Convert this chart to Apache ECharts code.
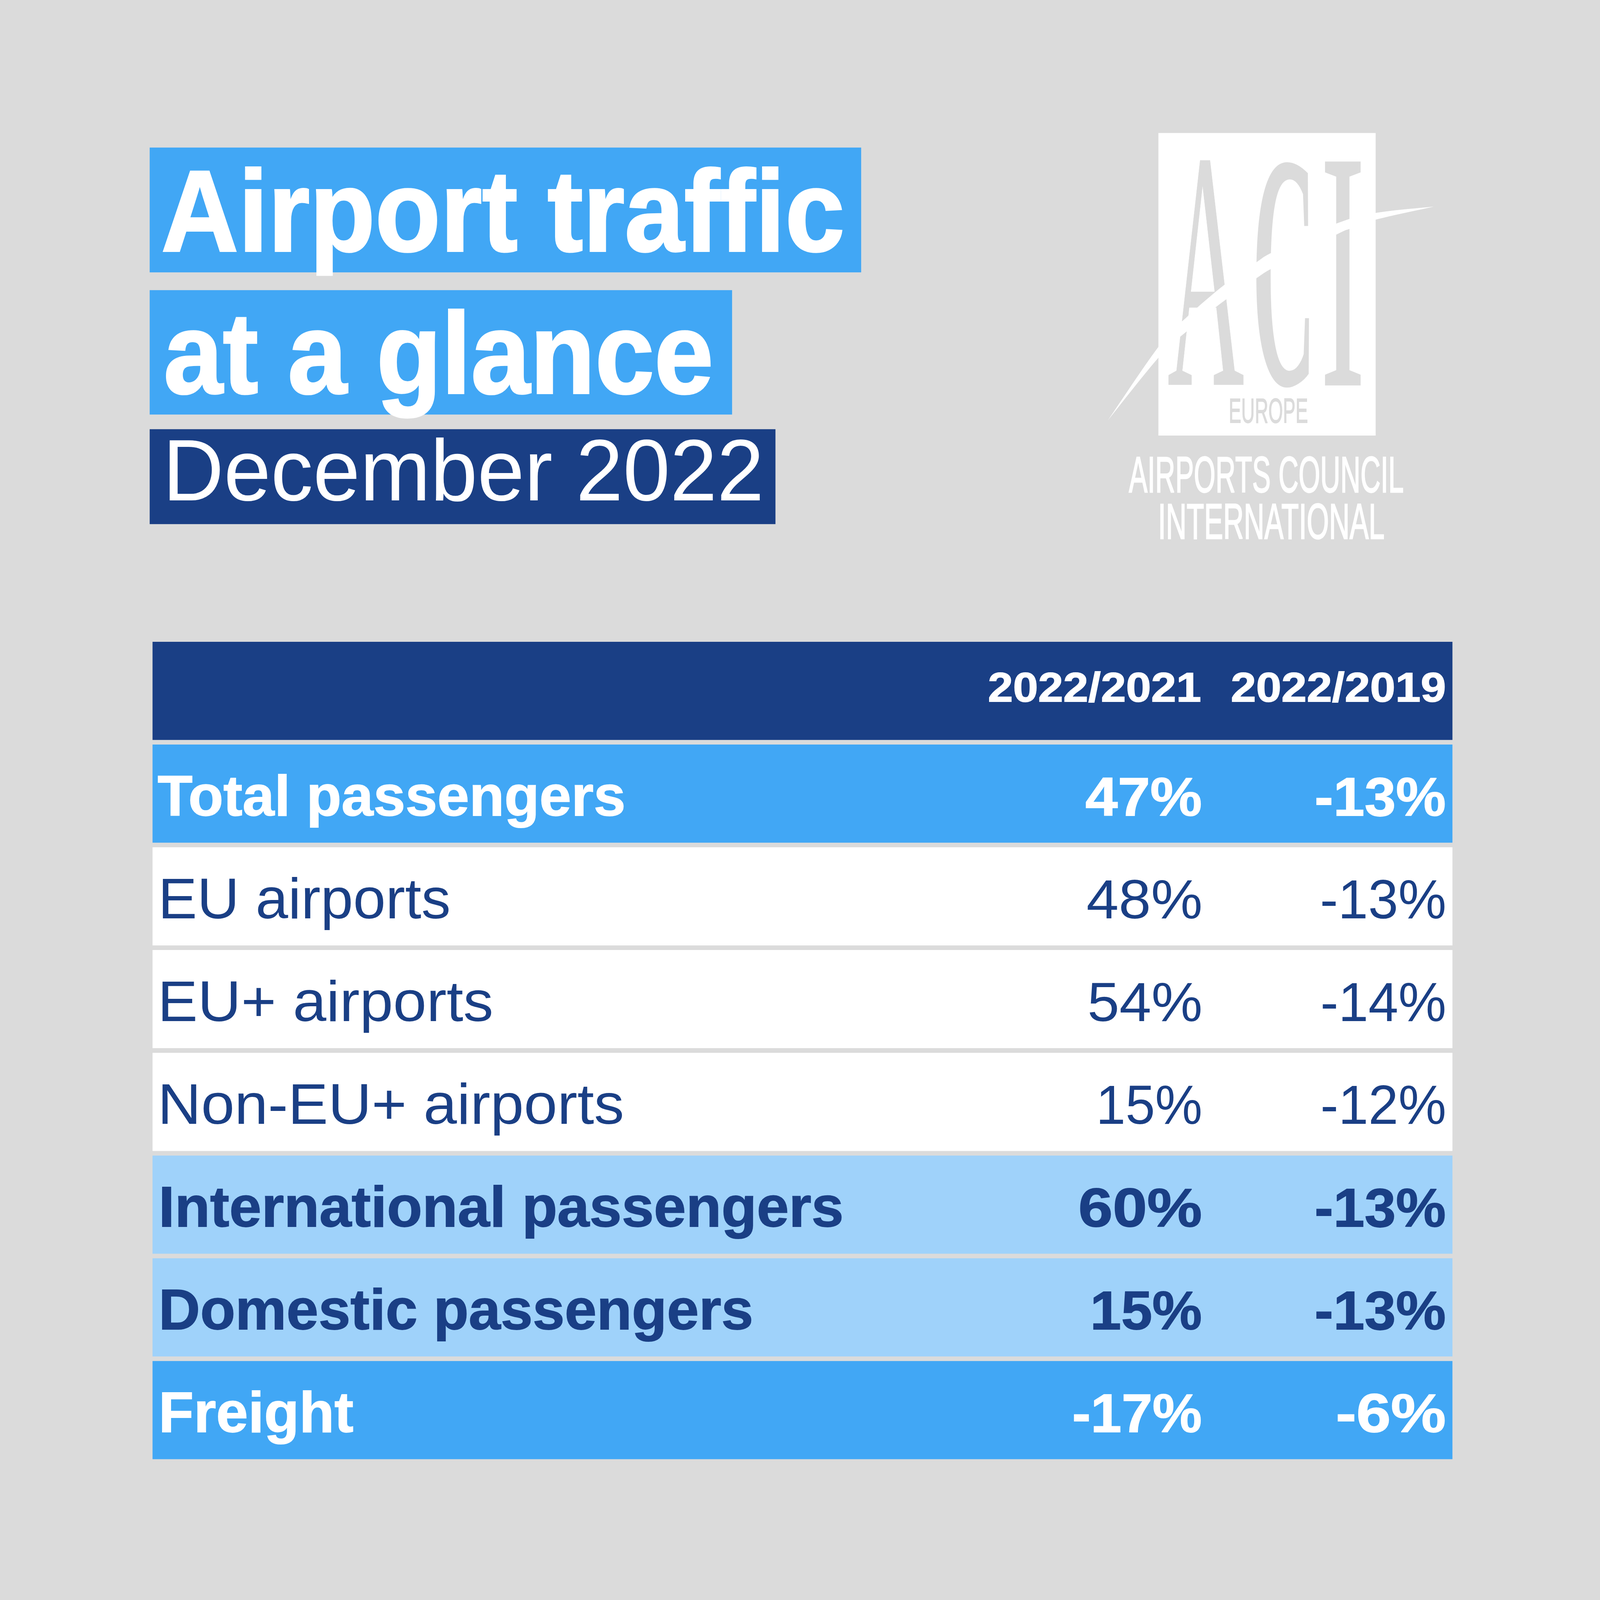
<!DOCTYPE html>
<html><head><meta charset="utf-8">
<style>html,body{margin:0;padding:0;background:#dbdbdb;overflow:hidden}#c{width:100vw;height:100vh}</style>
<script src="https://cdn.jsdelivr.net/npm/echarts@6/dist/echarts.min.js"></script>
</head><body><div id="c"></div>
<script>
// ---- data ----
const titleLines = ['Airport traffic', 'at a glance'];
const subtitle = 'December 2022';
const columns = ['2022/2021', '2022/2019'];
const rowLabels = ['Total passengers', 'EU airports', 'EU+ airports', 'Non-EU+ airports',
  'International passengers', 'Domestic passengers', 'Freight'];
const change2021 = [47, 48, 54, 15, 60, 15, -17];
const change2019 = [-13, -13, -14, -12, -13, -13, -6];
const logoLetters = ['A', 'C', 'I'];
const logoRegion = 'EUROPE';
const logoName = ['AIRPORTS COUNCIL', 'INTERNATIONAL'];

// ---- styles & layout (in units of the 4500-wide design) ----
const BG = '#dbdbdb', BLUE = '#41a7f5', NAVY = '#1a3f85', LIGHT = '#9fd2fa', WHITE = '#ffffff';
const SANS = '"Liberation Sans"', SERIF = '"Liberation Serif"', NARROW = '"Liberation Sans Narrow","Liberation Sans"';
const rowFill = [NAVY, BLUE, WHITE, WHITE, WHITE, LIGHT, LIGHT, BLUE];
const rowInk = [WHITE, WHITE, NAVY, NAVY, NAVY, NAVY, NAVY, WHITE];
const rowWeight = ['bold', 'bold', 'normal', 'normal', 'normal', 'bold', 'bold', 'bold'];
const labelInkLeft = [0, 444, 458, 457, 457, 456, 456, 456];
const labelInkRight = [0, 1753, 1262, 1382, 1750, 2366, 2112, 993];
const col1InkLeft = [2782, 3055, 3059, 3064, 3093, 3039, 3075, 3021];
const col2InkLeft = [3465, 3703, 3719, 3720, 3720, 3703, 3703, 3763];
const col1InkRight = [3376, 3377, 3377, 3377, 3377, 3377, 3377, 3377];
const col2InkRight = [4063, 4063, 4063, 4063, 4063, 4063, 4063, 4063];

// The page's real size sets the drawing scale.
const PAGE = Math.min(window.innerWidth, window.innerHeight);
const K = PAGE / 4500;

const ctx = document.createElement('canvas').getContext('2d');
function fit(text, o) {
  const size = o.size * K;
  ctx.font = `${o.weight || 'normal'} ${size}px ${o.family || SANS}`;
  ctx.textBaseline = 'middle';
  const H = ctx.measureText('H');
  const m = ctx.measureText(text);
  const off = H.actualBoundingBoxDescent;      // alphabetic baseline below the middle line
  const L = m.actualBoundingBoxLeft, R = m.actualBoundingBoxRight;
  const sx = (o.x1 - o.x0) * K / (L + R);
  let sy = 1;
  if (o.top != null) sy = (o.base - o.top) * K / (m.actualBoundingBoxAscent + off);
  const style = {
    text, x: 0, y: -off, fill: o.fill,
    fontSize: size, fontFamily: o.family || SANS, fontWeight: o.weight || 'normal',
    align: 'left', verticalAlign: 'middle'
  };
  if (o.heavy) { style.stroke = o.fill; style.lineWidth = o.heavy * K; }
  return { type: 'text', silent: true, z: o.z || 5, x: o.x0 * K + L * sx, y: o.base * K, scaleX: sx, scaleY: sy, style };
}
function rect(x0, y0, x1, y1, fill, z) {
  return { type: 'rect', silent: true, z: z || 1,
    shape: { x: x0 * K, y: y0 * K, width: (x1 - x0) * K, height: (y1 - y0) * K }, style: { fill } };
}
function sample(pts) {
  const out = [];
  for (let i = 0; i < pts.length - 1; i++) {
    const p0 = pts[Math.max(i - 1, 0)], p1 = pts[i], p2 = pts[i + 1], p3 = pts[Math.min(i + 2, pts.length - 1)];
    for (let k = 0; k < 12; k++) {
      const t = k / 12, t2 = t * t, t3 = t2 * t;
      out.push([0, 1].map(j => K * 0.5 * (2 * p1[j] + (p2[j] - p0[j]) * t + (2 * p0[j] - 5 * p1[j] + 4 * p2[j] - p3[j]) * t2 + (3 * p1[j] - p0[j] - 3 * p2[j] + p3[j]) * t3)));
    }
  }
  const e = pts[pts.length - 1];
  out.push([e[0] * K, e[1] * K]);
  return out;
}
const swooshUpper = [[3116,1182],[3260,973],[3342,888],[3446,799],[3533,738],[3586,706],[3758,629],[3868,599],[4033,581]];
const swooshLower = [[4033,581],[3868,618],[3798,643],[3758,660],[3586,750],[3533,783],[3450,841],[3412,870],[3347,924],[3260,1004],[3116,1182]];

const graphics = [
  rect(421, 415, 2422, 766, BLUE),
  rect(421, 816, 2059, 1166, BLUE),
  rect(421, 1207, 2181, 1474, NAVY),
  fit(titleLines[0], { size: 325, weight: 'bold', heavy: 5, fill: WHITE, x0: 458, x1: 2368, base: 706 }),
  fit(titleLines[1], { size: 325, weight: 'bold', heavy: 5, fill: WHITE, x0: 465, x1: 1999, base: 1106 }),
  fit(subtitle, { size: 245, fill: WHITE, x0: 477, x1: 2137, base: 1407 }),
  // logo
  rect(3258, 374, 3869, 1225, WHITE),
  fit(logoLetters[0], { family: SERIF, size: 950, heavy: 3, fill: BG, x0: 3284, x1: 3498, base: 1081, top: 441 }),
  fit(logoLetters[1], { family: SERIF, weight: 'bold', size: 940, fill: BG, x0: 3533, x1: 3684, base: 1081, top: 447 }),
  fit(logoLetters[2], { family: SERIF, size: 945, heavy: 6, fill: BG, x0: 3726, x1: 3831, base: 1081, top: 456 }),
  { type: 'polygon', silent: true, z: 6, shape: { points: sample(swooshUpper).concat(sample(swooshLower)) }, style: { fill: WHITE } },
  fit(logoRegion, { family: NARROW, size: 97, heavy: 2, fill: BG, x0: 3460, x1: 3677, base: 1190, top: 1121, z: 7 }),
  fit(logoName[0], { family: NARROW, size: 137, heavy: 3, fill: WHITE, x0: 3175, x1: 3946, base: 1384, top: 1285 }),
  fit(logoName[1], { family: NARROW, size: 137, heavy: 3, fill: WHITE, x0: 3264, x1: 3892, base: 1515, top: 1417 })
];

const fmt = v => v + '%';
function renderRow(params, api) {
  const r = api.value(1);
  const left = api.coord([0, r]);
  const right = api.coord([1, r]);
  const band = api.size([0, 1])[1];
  const h = band - 13 * K;
  const kids = [{ type: 'rect', silent: true, z: 2,
    shape: { x: left[0], y: left[1] - h / 2, width: right[0] - left[0], height: h }, style: { fill: rowFill[r] } }];
  const ink = rowInk[r], weight = rowWeight[r];
  const heavy = weight === 'bold' ? 2 : 0;
  if (r === 0) {
    const base = left[1] / K + 30;
    kids.push(fit(columns[0], { size: 117, weight: 'bold', heavy, fill: ink, x0: col1InkLeft[0], x1: col1InkRight[0], base }));
    kids.push(fit(columns[1], { size: 117, weight: 'bold', heavy, fill: ink, x0: col2InkLeft[0], x1: col2InkRight[0], base }));
  } else {
    const base = left[1] / K + 61.5;
    const numSize = weight === 'bold' ? 152 : 155;
    kids.push(fit(rowLabels[r - 1], { size: 162, weight, heavy, fill: ink, x0: labelInkLeft[r], x1: labelInkRight[r], base }));
    kids.push(fit(fmt(change2021[r - 1]), { size: numSize, weight, heavy, fill: ink, x0: col1InkLeft[r], x1: col1InkRight[r], base }));
    kids.push(fit(fmt(change2019[r - 1]), { size: numSize, weight, heavy, fill: ink, x0: col2InkLeft[r], x1: col2InkRight[r], base }));
  }
  return { type: 'group', children: kids };
}

const chart = echarts.init(document.getElementById('c'), null, { width: PAGE, height: PAGE, renderer: 'canvas' });
chart.setOption({
  animation: false,
  backgroundColor: BG,
  grid: { left: 429 * K, top: 1798.5 * K, width: 3656 * K, height: 2312 * K },
  xAxis: { type: 'value', min: 0, max: 1, show: false },
  yAxis: { type: 'category', inverse: true, show: false, data: ['header'].concat(rowLabels) },
  graphic: graphics,
  series: [{
    type: 'custom',
    coordinateSystem: 'cartesian2d',
    clip: false,
    silent: true,
    renderItem: renderRow,
    encode: { x: 0, y: 1 },
    data: rowFill.map((_, i) => [0, i])
  }]
});
</script></body></html>
